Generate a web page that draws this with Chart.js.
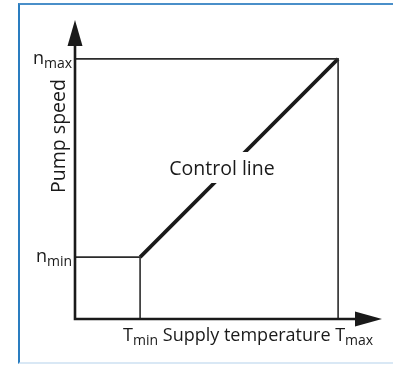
<!DOCTYPE html>
<html lang="en">
<head>
    <meta charset="UTF-8">
    <title>Pump speed control line</title>
    <script src="https://cdn.jsdelivr.net/npm/chart.js"></script>
    <style>
        html, body {
            margin: 0;
            padding: 0;
            background: #fff;
        }

        .wrap {
            position: relative;
            width: 393px;
            height: 365px;
        }

        .frame {
            position: absolute;
            left: 18px;
            top: 3px;
            right: 0;
            bottom: 1px;
            border-top: 2px solid #4a8fc9;
            border-left: 2px solid #2a7dc0;
            border-bottom: 2px solid #d9e8f5;
        }

        canvas {
            position: absolute;
            left: 0;
            top: 0;
        }
    </style>
</head>
<body>
    <div class="wrap">
        <div class="frame"></div>
        <canvas id="chart" width="393" height="365"></canvas>
    </div>

    <script>
        // supply temperature limits and pump speed limits (axis units 0..100)
        const tempLimits = [21.2, 85.7];
        const speedLimits = [20.7, 87];
        const tempLabels = ['min', 'max'];
        const speedLabels = ['min', 'max'];

        // control line: from (Tmin, nmin) to (Tmax, nmax)
        const controlTemp = [21.2, 85.7];
        const controlSpeed = [20.7, 87];

        const FONT = '"Open Sans", "Noto Sans", sans-serif';
        const INK = '#1a1a1a';

        function pts(xs, ys) {
            return xs.map((x, i) => ({ x: x, y: ys[i] }));
        }

        // draws a letter with a subscript, returns the width used
        function subLabel(ctx, main, sub, x, y, align, size) {
            const subSize = Math.round(size * 0.78);
            ctx.font = size + 'px ' + FONT;
            const w1 = ctx.measureText(main).width;
            ctx.font = subSize + 'px ' + FONT;
            const w2 = ctx.measureText(sub).width;
            const start = align === 'right' ? x - w1 - w2 : x;
            ctx.textAlign = 'left';
            ctx.textBaseline = 'alphabetic';
            ctx.font = size + 'px ' + FONT;
            ctx.fillText(main, start, y);
            ctx.font = subSize + 'px ' + FONT;
            ctx.fillText(sub, start + w1, y + 4);
            return w1 + w2;
        }

        const axesPlugin = {
            id: 'axesPlugin',
            afterDatasetsDraw(chart) {
                const ctx = chart.ctx;
                const xs = chart.scales.x;
                const ys = chart.scales.y;
                const x0 = xs.getPixelForValue(0);
                const y0 = ys.getPixelForValue(0);
                const xEnd = xs.getPixelForValue(100);
                const yEnd = ys.getPixelForValue(100);

                ctx.save();
                ctx.strokeStyle = INK;
                ctx.fillStyle = INK;
                ctx.lineWidth = 2.6;
                ctx.beginPath();
                ctx.moveTo(x0, yEnd + 20);
                ctx.lineTo(x0, y0);
                ctx.lineTo(xEnd - 20, y0);
                ctx.stroke();

                // arrow heads
                ctx.beginPath();
                ctx.moveTo(x0, yEnd);
                ctx.lineTo(x0 - 7.5, yEnd + 26);
                ctx.lineTo(x0 + 7.5, yEnd + 26);
                ctx.closePath();
                ctx.fill();
                ctx.beginPath();
                ctx.moveTo(xEnd, y0);
                ctx.lineTo(xEnd - 27, y0 - 7.5);
                ctx.lineTo(xEnd - 27, y0 + 7.5);
                ctx.closePath();
                ctx.fill();

                // speed limit labels
                speedLimits.forEach((v, i) => {
                    subLabel(ctx, 'n', speedLabels[i], x0 - 3, ys.getPixelForValue(v) + 5, 'right', 18);
                });

                // temperature axis label line
                const base = y0 + 22;
                let cx = xs.getPixelForValue(tempLimits[0]) - 17;
                cx += subLabel(ctx, 'T', tempLabels[0], cx, base, 'left', 18);
                ctx.font = '18px ' + FONT;
                ctx.fillText(' Supply temperature ', cx, base);
                cx += ctx.measureText(' Supply temperature ').width;
                subLabel(ctx, 'T', tempLabels[1], cx, base, 'left', 18);

                // vertical axis title
                ctx.save();
                ctx.translate(x0 - 16, 136);
                ctx.rotate(-Math.PI / 2);
                ctx.textAlign = 'center';
                ctx.textBaseline = 'middle';
                ctx.font = '19.5px ' + FONT;
                ctx.fillText('Pump speed', 0, 0);
                ctx.restore();

                // control line caption on a white patch
                ctx.font = '19.5px ' + FONT;
                ctx.textAlign = 'center';
                ctx.textBaseline = 'middle';
                const txt = 'Control line';
                const tw = ctx.measureText(txt).width;
                const tx = 222, ty = 169;
                ctx.fillStyle = '#fff';
                ctx.fillRect(tx - tw / 2 - 4, 152, tw + 8, 31);
                ctx.fillStyle = INK;
                ctx.fillText(txt, tx, ty);
                ctx.restore();
            }
        };

        new Chart(document.getElementById('chart'), {
            type: 'scatter',
            data: {
                datasets: [
                    {
                        // upper limit box
                        data: pts([0, tempLimits[1], tempLimits[1]], [speedLimits[1], speedLimits[1], 0]),
                        showLine: true,
                        borderColor: '#2b2b2b',
                        borderWidth: 1.6,
                        pointRadius: 0
                    },
                    {
                        // lower limit box
                        data: pts([0, tempLimits[0], tempLimits[0]], [speedLimits[0], speedLimits[0], 0]),
                        showLine: true,
                        borderColor: '#2b2b2b',
                        borderWidth: 1.6,
                        pointRadius: 0
                    },
                    {
                        data: pts(controlTemp, controlSpeed),
                        showLine: true,
                        borderColor: INK,
                        borderWidth: 3.6,
                        pointRadius: 0
                    }
                ]
            },
            options: {
                responsive: false,
                animation: false,
                events: [],
                clip: false,
                layout: {
                    padding: { left: 75, top: 20, right: 11, bottom: 46 }
                },
                scales: {
                    x: { type: 'linear', min: 0, max: 100, display: false },
                    y: { type: 'linear', min: 0, max: 100, display: false }
                },
                plugins: {
                    legend: { display: false },
                    tooltip: { enabled: false }
                }
            },
            plugins: [axesPlugin]
        });
    </script>
</body>
</html>
